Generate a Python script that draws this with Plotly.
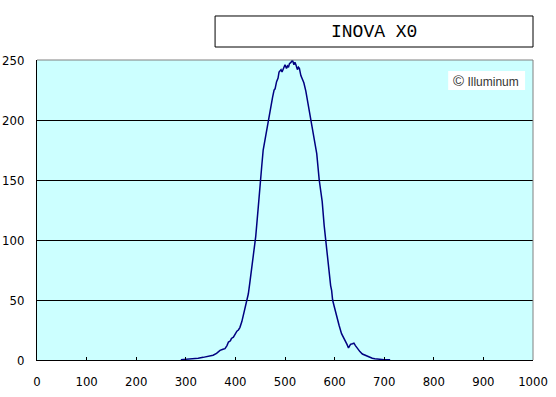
import plotly.graph_objects as go

# Data
wavelength = [290, 300, 315, 325, 335, 345, 355, 362, 369, 375, 379, 383, 386, 390, 392, 396,
              400, 403, 406, 409, 413, 417, 421, 424, 426, 429, 433, 437, 441, 446, 450, 453,
              456, 459, 462, 466, 470, 475, 478, 480, 483, 486, 488, 492, 494, 497, 500, 503,
              505, 507, 509, 512, 515, 518, 520, 522, 525, 527, 529, 532, 536, 538, 542, 545,
              549, 552, 557, 560, 564, 569, 572, 575, 579, 582, 585, 589, 592, 594, 596, 599,
              604, 609, 614, 618, 621, 625, 628, 630, 632, 636, 639, 642, 645, 651, 656, 661,
              666, 671, 676, 681, 686, 692, 700, 705, 712]
intensity = [0.3, 0.5, 0.8, 1.5, 2.2, 3, 4, 5.5, 8, 9, 9.5, 12, 15, 16, 18, 19,
             22, 24, 25, 27, 32, 39, 47, 51, 55, 64, 78, 90, 103, 127, 150, 161,
             175, 182, 189, 199, 210, 219, 225, 226, 232, 235, 240, 242, 240, 244, 246, 243,
             245, 244, 247, 248, 250, 246, 248, 246, 242, 244, 243, 237, 232, 231, 224, 217,
             208, 200, 189, 182, 172, 150, 142, 132, 112, 100, 85, 69, 62, 58, 50, 45,
             36, 29, 22, 19, 17, 13, 10, 12, 13, 13.5, 14, 12, 10, 7, 5, 4,
             3.5, 2.5, 1.5, 1, 0.7, 0.5, 0.3, 0.3, 0.2]

x_ticks = [0, 100, 200, 300, 400, 500, 600, 700, 800, 900, 1000]
y_ticks = [0, 50, 100, 150, 200, 250]
title_text = "INOVA X0"
watermark = "<span style='font-size:15px'>©</span> Illuminum"

tick_font = dict(family="DejaVu Sans Condensed, sans-serif", size=13, color="black")

fig = go.Figure()
fig.add_trace(go.Scatter(x=wavelength, y=intensity, mode="lines",
                         line=dict(color="#000080", width=1.5), hoverinfo="skip"))

fig.update_layout(
    width=556, height=397,
    margin=dict(l=37, r=23, t=60, b=37, autoexpand=False),
    paper_bgcolor="white",
    plot_bgcolor="#CCFFFF",
    showlegend=False,
    xaxis=dict(range=[0, 1000], tickvals=x_ticks, ticktext=[str(v) for v in x_ticks],
               showgrid=False, zeroline=False, showline=True, linecolor="black", linewidth=1,
               ticks="inside", ticklen=3, tickcolor="black", tickfont=tick_font,
               ticklabelstandoff=9, automargin=False, fixedrange=True),
    yaxis=dict(range=[0, 250], tickvals=y_ticks, ticktext=[str(v) for v in y_ticks],
               showgrid=True, gridcolor="black", gridwidth=1, zeroline=False,
               showline=True, linecolor="black", linewidth=1,
               ticks="", tickfont=tick_font, ticklabelstandoff=9, automargin=False,
               fixedrange=True),
)

# top and right gray borders
fig.add_shape(type="line", xref="x domain", yref="y domain", x0=0, x1=1, y0=1, y1=1,
              line=dict(color="#808080", width=1))
fig.add_shape(type="line", xref="x domain", yref="y domain", x0=1, x1=1, y0=0, y1=1,
              line=dict(color="#808080", width=1))

# title box
fig.add_shape(type="rect", xref="paper", yref="paper", x0=0.359, x1=1.0, y0=1.0433, y1=1.1467,
              line=dict(color="black", width=1), fillcolor="white")
fig.add_annotation(xref="paper", yref="paper", x=0.6795, y=1.095, text=title_text, showarrow=False,
                   font=dict(family="Liberation Mono, DejaVu Sans Mono, monospace", size=18,
                             color="black"),
                   xanchor="center", yanchor="middle")

# watermark box
fig.add_shape(type="rect", xref="paper", yref="paper", x0=0.829, x1=0.984, y0=0.9, y1=0.963,
              line=dict(width=0), fillcolor="white")
fig.add_annotation(xref="paper", yref="paper", x=0.906, y=0.932, text=watermark, showarrow=False,
                   font=dict(family="Liberation Sans, Arial, sans-serif", size=12, color="#333333"),
                   xanchor="center", yanchor="middle")

# remove the browser's default body margin so the figure fills the window
fig.write_html("out.html", config={"displayModeBar": False},
               post_script="document.body.style.margin='0px';")
